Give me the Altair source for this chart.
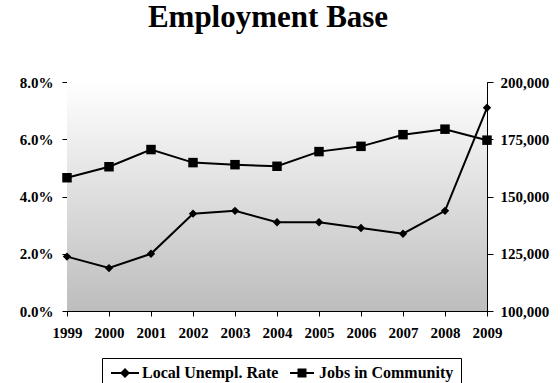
import altair as alt
import pandas as pd

years = ["1999", "2000", "2001", "2002", "2003", "2004", "2005", "2006", "2007", "2008", "2009"]
unemp_rate = [0.019, 0.015, 0.020, 0.034, 0.035, 0.031, 0.031, 0.029, 0.027, 0.035, 0.071]
jobs = [158200, 163000, 170500, 164800, 163900, 163200, 169600, 171900, 177000, 179400, 174600]
series_names = ["Local Unempl. Rate", "Jobs in Community"]
left_ticks = [0, 0.02, 0.04, 0.06, 0.08]
right_ticks = [100000, 125000, 150000, 175000, 200000]

df = pd.DataFrame({"year": years, "rate": unemp_rate, "jobs": jobs})

FONT = "Liberation Serif"
W, H = 420, 229

x_enc = alt.X("year:O", scale=alt.Scale(type="point", padding=0),
              axis=alt.Axis(title=None, labelAngle=0, labelPadding=9, tickSize=5))

bg = alt.Chart(pd.DataFrame({"a": [0]})).mark_rect(
    fill=alt.Gradient(gradient="linear",
                      stops=[alt.GradientStop(color="#ffffff", offset=0),
                             alt.GradientStop(color="#bdbdbd", offset=1)],
                      x1=0, x2=0, y1=0, y2=1),
    stroke="transparent"
).encode(x=alt.value(0), x2=alt.value(W), y=alt.value(0), y2=alt.value(H))

left_y = alt.Y("rate:Q", scale=alt.Scale(domain=[0, 0.08], nice=False),
               axis=alt.Axis(title=None, orient="left", values=left_ticks, format=".1%",
                             labelPadding=9, tickSize=5, grid=True, gridColor="black",
                             gridOpacity=1, gridWidth=1))
left_line = alt.Chart(df).mark_line(color="black", strokeWidth=2).encode(x=x_enc, y=left_y)
left_pts = alt.Chart(df).mark_point(shape="diamond", filled=True, color="black", size=70, opacity=1).encode(x=x_enc, y=left_y)
left = alt.layer(left_line, left_pts)

right_y = alt.Y("jobs:Q", scale=alt.Scale(domain=[100000, 200000], nice=False),
                axis=alt.Axis(title=None, orient="right", values=right_ticks, format=",.0f",
                              labelPadding=7, tickSize=6, grid=False))
right_line = alt.Chart(df).mark_line(color="black", strokeWidth=2).encode(x=x_enc, y=right_y)
right_pts = alt.Chart(df).mark_point(shape="square", filled=True, color="black", size=90, opacity=1).encode(x=x_enc, y=right_y)
right = alt.layer(right_line, right_pts)

diamond_sym = "M-2.8,-0.2L2.8,-0.2L2.8,0.2L-2.8,0.2ZM0,-1L1,0L0,1L-1,0Z"
square_sym = "M-2.4,-0.2L2.4,-0.2L2.4,0.2L-2.4,0.2ZM-0.9,-0.9L0.9,-0.9L0.9,0.9L-0.9,0.9Z"
legend_df = pd.DataFrame({"series": series_names})
legend_layer = alt.Chart(legend_df).mark_point(filled=True, color="black", strokeWidth=0, size=100, opacity=1).encode(
    shape=alt.Shape("series:N",
                    scale=alt.Scale(domain=series_names, range=[diamond_sym, square_sym]),
                    legend=alt.Legend(title=None, orient="none", legendX=35, legendY=276,
                                      direction="horizontal", columns=2,
                                      strokeColor="black", fillColor="white", padding=7,
                                      symbolSize=100, symbolOffset=8,
                                      labelOffset=9, columnPadding=7,
                                      symbolFillColor="black", symbolStrokeWidth=0))
).transform_filter("false")

chart = alt.layer(bg, left, right, legend_layer).resolve_scale(y="independent").properties(
    width=W, height=H,
    title=alt.TitleParams("Employment Base", font=FONT, fontSize=31, fontWeight="bold",
                          color="black", anchor="middle", dx=-9, offset=41),
    autosize=alt.AutoSizeParams(type="none"),
    padding={"left": 67, "top": 82, "right": 73, "bottom": 72},
).configure(background="white", font=FONT).configure_view(stroke="transparent").configure_axis(
    labelFont=FONT, labelFontSize=15, labelFontWeight="bold", labelColor="black",
    domainColor="black", domainWidth=1, tickColor="black", tickWidth=1, zindex=1
).configure_legend(
    labelFont=FONT, labelFontSize=16, labelFontWeight="bold", labelColor="black"
)

chart.save("out.html", embed_options={"renderer": "svg", "actions": False})
